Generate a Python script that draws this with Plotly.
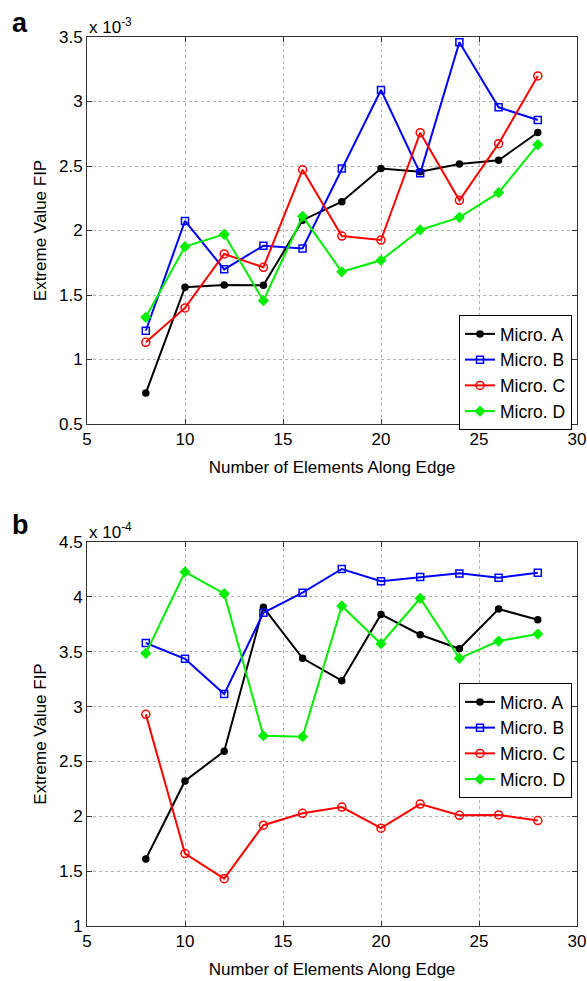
import plotly.graph_objects as go

x_vals = [8, 10, 12, 14, 16, 18, 20, 22, 24, 26, 28]

# Panel a (x 10^-3)
a_micro_a = [0.74, 1.56, 1.578, 1.575, 2.08, 2.223, 2.48, 2.456, 2.515, 2.544, 2.76]
a_micro_b = [1.223, 2.074, 1.699, 1.882, 1.86, 2.48, 3.089, 2.443, 3.459, 2.955, 2.857]
a_micro_c = [1.133, 1.40, 1.818, 1.715, 2.471, 1.957, 1.926, 2.758, 2.234, 2.673, 3.198]
a_micro_d = [1.327, 1.875, 1.97, 1.456, 2.11, 1.68, 1.769, 2.004, 2.102, 2.293, 2.665]

# Panel b (x 10^-4)
b_micro_a = [1.611, 2.322, 2.593, 3.905, 3.44, 3.236, 3.84, 3.655, 3.527, 3.889, 3.792]
b_micro_b = [3.579, 3.436, 3.114, 3.855, 4.038, 4.254, 4.142, 4.181, 4.214, 4.175, 4.22]
b_micro_c = [2.929, 1.66, 1.431, 1.919, 2.027, 2.084, 1.892, 2.111, 2.009, 2.012, 1.961]
b_micro_d = [3.485, 4.227, 4.029, 2.734, 2.725, 3.917, 3.573, 3.987, 3.44, 3.597, 3.661]

names = ["Micro. A", "Micro. B", "Micro. C", "Micro. D"]
colors = ["#000000", "#0000ff", "#ff0000", "#00ee00"]
symbols = ["circle", "square-open", "circle-open", "diamond"]
sizes = [6, 7, 8, 7]

x_ticks = [5, 10, 15, 20, 25, 30]
a_ticks = [0.5, 1, 1.5, 2, 2.5, 3, 3.5]
b_ticks = [1, 1.5, 2, 2.5, 3, 3.5, 4, 4.5]

fig = go.Figure()
FONT = "Liberation Sans, Arial, Helvetica, sans-serif"
TICK_SIZE = 17
TITLE_SIZE = 17

for ser, nm, c, s, sz in zip([a_micro_a, a_micro_b, a_micro_c, a_micro_d], names, colors, symbols, sizes):
    fig.add_trace(go.Scatter(x=x_vals, y=ser, name=nm, mode="lines+markers",
                             line=dict(color=c, width=2),
                             marker=dict(symbol=s, size=sz, color=c, line=dict(color=c, width=1.5)),
                             xaxis="x", yaxis="y", legend="legend"))
for ser, nm, c, s, sz in zip([b_micro_a, b_micro_b, b_micro_c, b_micro_d], names, colors, symbols, sizes):
    fig.add_trace(go.Scatter(x=x_vals, y=ser, name=nm, mode="lines+markers",
                             line=dict(color=c, width=2),
                             marker=dict(symbol=s, size=sz, color=c, line=dict(color=c, width=1.5)),
                             xaxis="x2", yaxis="y2", legend="legend2"))

axis_common = dict(showline=True, linecolor="#333333", linewidth=1, mirror="ticks",
                   ticks="inside", ticklen=5, tickcolor="#333333", automargin=False,
                   showgrid=True, gridcolor="#b0b0b0", griddash="dot", gridwidth=1,
                   zeroline=False, tickfont=dict(size=TICK_SIZE, color="#000", family=FONT))

H_TOP, H_BOT = 37, 55
plot_h = 981 - H_TOP - H_BOT
def fy(py):
    return (981 - H_BOT - py) / plot_h

fig.update_layout(
    width=587, height=981,
    margin=dict(l=87, r=10, t=H_TOP, b=H_BOT, autoexpand=False),
    paper_bgcolor="white", plot_bgcolor="white",
    font=dict(family=FONT, size=TICK_SIZE, color="#000"),
    xaxis=dict(domain=[0, 1], anchor="y", range=[5, 30], tickvals=x_ticks,
               title=dict(text="Number of Elements Along Edge", font=dict(size=TITLE_SIZE), standoff=12), **axis_common),
    yaxis=dict(domain=[fy(424), 1], anchor="x", range=[0.5, 3.5], tickvals=a_ticks,
               ticktext=[f"{v:g}" for v in a_ticks],
               title=dict(text="Extreme Value FIP", font=dict(size=TITLE_SIZE), standoff=8), **axis_common),
    xaxis2=dict(domain=[0, 1], anchor="y2", range=[5, 30], tickvals=x_ticks,
                title=dict(text="Number of Elements Along Edge", font=dict(size=TITLE_SIZE), standoff=12), **axis_common),
    yaxis2=dict(domain=[0, fy(542)], anchor="x2", range=[1, 4.5], tickvals=b_ticks,
                ticktext=[f"{v:g}" for v in b_ticks],
                title=dict(text="Extreme Value FIP", font=dict(size=TITLE_SIZE), standoff=8), **axis_common),
    legend=dict(x=(572 - 87) / 490, y=fy(315), xanchor="right", yanchor="top",
                bgcolor="white", bordercolor="#000", borderwidth=1,
                font=dict(size=17.5, family=FONT), itemwidth=30, tracegroupgap=0),
    legend2=dict(x=(572 - 87) / 490, y=fy(683), xanchor="right", yanchor="top",
                 bgcolor="white", bordercolor="#000", borderwidth=1,
                 font=dict(size=17.5, family=FONT), itemwidth=30, tracegroupgap=0),
    showlegend=True,
)

fig.add_annotation(text="x 10<sup>-3</sup>", x=0, y=1, xref="paper", yref="paper",
                   xanchor="left", yanchor="bottom", showarrow=False, yshift=-2,
                   font=dict(size=17, family=FONT))
fig.add_annotation(text="x 10<sup>-4</sup>", x=0, y=fy(542), xref="paper", yref="paper",
                   xanchor="left", yanchor="bottom", showarrow=False, yshift=-2,
                   font=dict(size=17, family=FONT))
fig.add_annotation(text="<b>a</b>", x=-77 / 490, y=fy(6), xref="paper", yref="paper",
                   xanchor="left", yanchor="top", showarrow=False,
                   font=dict(size=27, family=FONT))
fig.add_annotation(text="<b>b</b>", x=-77 / 490, y=fy(508), xref="paper", yref="paper",
                   xanchor="left", yanchor="top", showarrow=False,
                   font=dict(size=27, family=FONT))

fig.write_html("out.html")
